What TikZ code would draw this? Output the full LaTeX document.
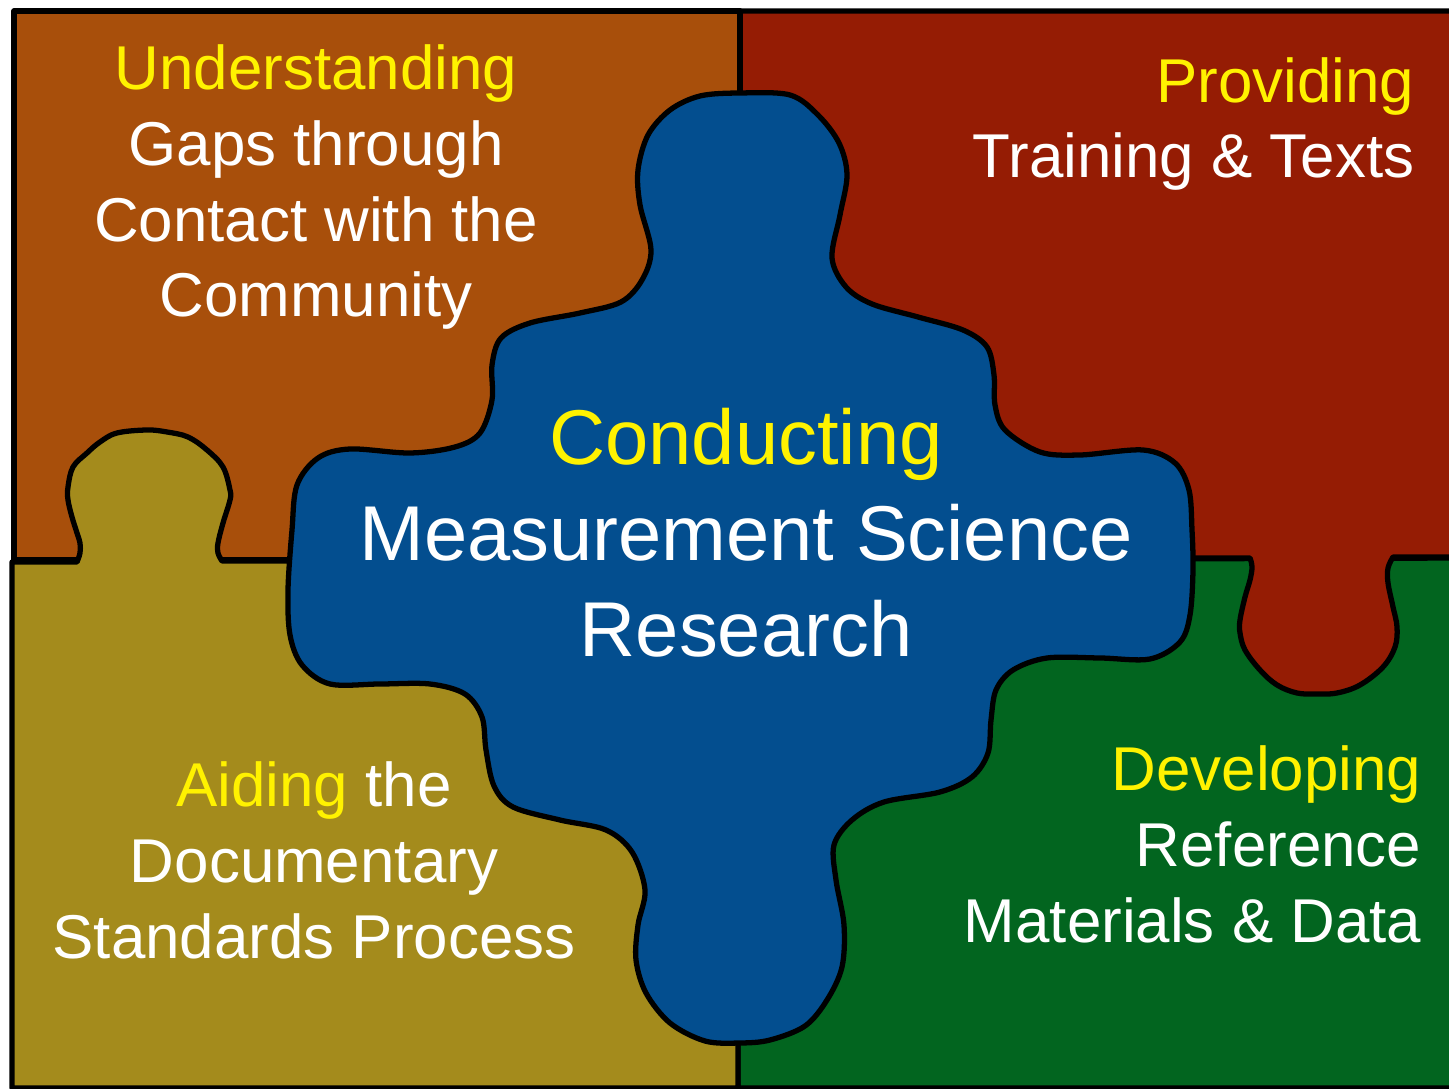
\documentclass[tikz,border=0pt]{standalone}
\usepackage{fontspec}
\setmainfont{Liberation Sans}
\definecolor{rust}{RGB}{168,79,11}
\definecolor{brick}{RGB}{149,28,4}
\definecolor{mustard}{RGB}{164,139,28}
\definecolor{forest}{RGB}{2,101,31}
\definecolor{deepblue}{RGB}{3,78,143}

\begin{document}
\begin{tikzpicture}[x=0.01cm, y=-0.01cm,
  piece/.style={draw=black, line width=1.5pt, line join=round},
  txt/.style={text=white, inner sep=0pt, font=\fontsize{17.6}{21.6}\selectfont},
  bigtxt/.style={txt, font=\fontsize{22.1}{27.3}\selectfont}]
\useasboundingbox (0,0) rectangle (1449,1089);
\clip (0,0) rectangle (1449,1089);
\draw[piece, fill=forest] (738,560) -- (1470,558) -- (1470,1088) -- (738,1088) -- cycle;
\draw[piece, fill=brick] (740,11) -- (1470,11) -- (1470,557) -- (1393,557) -- plot[smooth, tension=0.6] coordinates {(1393,557) (1388,568) (1388,583) (1393,607) (1397,627) (1395,647) (1383,667) (1360,685) (1337,693) (1317,694) (1297,693) (1277,685) (1260,670) (1245,650) (1240,633) (1240,620) (1245,597) (1250,580) (1252,567) (1250,558)} -- (740,558) -- cycle;
\draw[piece, fill=rust] (14,11) -- (740,11) -- (740,560) -- (14,560) -- cycle;
\draw[piece, fill=mustard] (12,1088) -- (12,562) -- (77,562) -- plot[smooth, tension=0.6] coordinates {(77,562) (80,553) (80,543) (77,533) (72,517) (68,500) (68,487) (73,467) (87,453) (100,442) (117,433) (147,430) (167,432) (188,437) (207,450) (223,467) (230,490) (230,500) (223,523) (218,543) (218,553) (222,561)} -- (738,561) -- (738,1088) -- cycle;
\draw[piece, fill=deepblue] plot[smooth cycle, tension=0.55] coordinates {(740,93) (790,95) (818,115) (839,143) (847,175) (840,215) (832,258) (846,287) (872,304) (918,317) (963,330) (987,347) (994,375) (995,405) (1005,430) (1040,452) (1080,455) (1143,450) (1175,463) (1189,490) (1192,530) (1193,570) (1190,615) (1180,642) (1150,659) (1100,658) (1047,658) (1013,670) (996,690) (991,720) (988,753) (972,777) (940,792) (884,802) (852,820) (834,845) (836,880) (844,925) (842,967) (827,1000) (805,1026) (770,1040) (740,1043) (705,1041) (670,1023) (646,993) (636,960) (638,925) (645,890) (632,852) (606,830) (560,820) (513,807) (494,786) (486,750) (482,717) (465,694) (430,684) (380,684) (330,684) (302,665) (290,635) (288,590) (292,530) (297,485) (318,458) (350,449) (410,453) (455,447) (480,433) (492,400) (492,365) (501,338) (530,323) (580,313) (621,302) (642,280) (651,250) (640,205) (638,170) (648,135) (670,110) (700,96)};

\node[txt, align=center, anchor=base] (understand) at (316,317) {\textcolor{yellow}{Understanding}\\Gaps through\\Contact with the\\Community};
\node[txt, align=right, anchor=base east] (provide) at (1415,178) {\textcolor{yellow}{Providing}\\Training \& Texts};
\node[txt, align=center, anchor=base] (aid) at (314,958) {\textcolor{yellow}{Aiding} the\\Documentary\\Standards Process};
\node[txt, align=right, anchor=base east] (develop) at (1422,942) {\textcolor{yellow}{Developing}\\Reference\\Materials \& Data};
\node[bigtxt, align=center, anchor=base] (conduct) at (746,657) {\textcolor{yellow}{Conducting}\\Measurement Science\\Research};
\end{tikzpicture}
\end{document}
